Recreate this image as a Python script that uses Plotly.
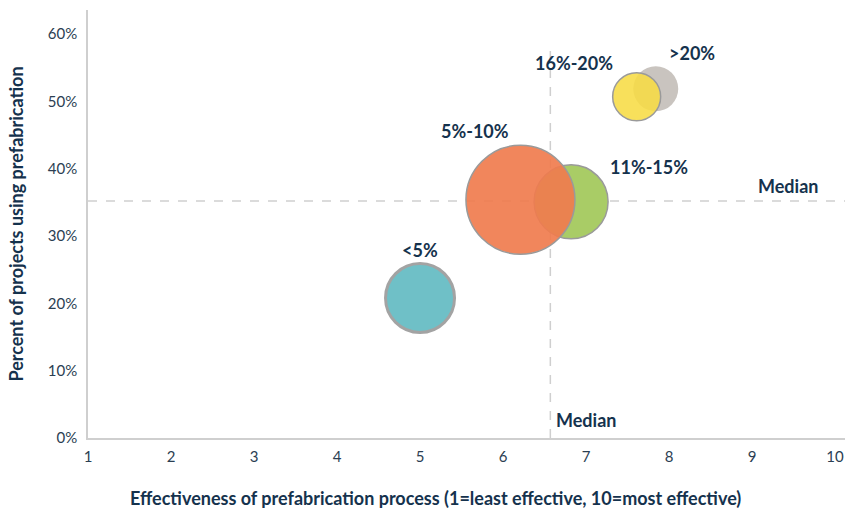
import plotly.graph_objects as go

# Data
labels = ["<5%", "11%-15%", "5%-10%", ">20%", "16%-20%"]
effectiveness = [5.0, 6.82, 6.21, 7.84, 7.61]
pct_prefab = [0.208, 0.351, 0.354, 0.519, 0.507]
bubble_size = [69, 74, 109, 45, 48]
colors = ["rgba(111,192,199,1)", "rgba(169,204,102,1)", "rgba(240,124,78,0.92)",
          "rgba(201,196,191,1)", "rgba(247,220,68,0.88)"]
line_colors = ["#a3a3a3", "#9a9a9a", "#9a9a9a", "rgba(201,196,191,1)", "#9a9a9a"]
line_widths = [3, 1.5, 1.5, 0, 1.5]
median_x = 6.57
median_y = 0.352
x_ticks = list(range(1, 11))
y_ticks = [0, 0.1, 0.2, 0.3, 0.4, 0.5, 0.6]

# label offsets (px)
label_dx = [0, 78, -45, 36, -63]
label_dy = [48, 35, 69, 36, 34]

navy = "#15324d"
tick_color = "#2b3e52"
grid = "#cfcfcf"
font = "Lato"

fig = go.Figure()
fig.add_trace(go.Scatter(
    x=effectiveness, y=pct_prefab, mode="markers",
    marker=dict(size=bubble_size, sizemode="diameter", color=colors, opacity=1,
                line=dict(color=line_colors, width=line_widths)),
    hoverinfo="text", text=labels, showlegend=False,
))

shapes = [
    dict(type="line", xref="x", yref="y", x0=median_x, x1=median_x, y0=0, y1=0.58,
         line=dict(color=grid, width=1.5, dash="dash"), layer="below"),
    dict(type="line", xref="paper", yref="y", x0=0, x1=1, y0=median_y, y1=median_y,
         line=dict(color=grid, width=1.5, dash="dash"), layer="below"),
]

annotations = []
for lab, x, y, dx, dy in zip(labels, effectiveness, pct_prefab, label_dx, label_dy):
    annotations.append(dict(x=x, y=y, xref="x", yref="y", text=lab, showarrow=False,
                            xshift=dx, yshift=dy,
                            font=dict(family=font, size=18, color=navy, weight="bold")))
annotations.append(dict(x=1, y=median_y, xref="paper", yref="y", text="Median",
                        showarrow=False, xanchor="right", yanchor="bottom", xshift=-25, yshift=2,
                        font=dict(family=font, size=18, color=navy, weight="bold")))
annotations.append(dict(x=median_x, y=0, xref="x", yref="y", text="Median",
                        showarrow=False, xanchor="left", yanchor="bottom", xshift=4, yshift=5,
                        font=dict(family=font, size=18, color=navy, weight="bold")))
# x axis title (offset left as in reference)
annotations.append(dict(x=0.459, y=0, xref="paper", yref="paper", yanchor="middle",
                        yshift=-60, showarrow=False,
                        text="Effectiveness of prefabrication process (1=least effective, 10=most effective)",
                        font=dict(family=font, size=18, color=navy, weight="bold")))

fig.update_layout(
    width=848, height=511,
    margin=dict(l=88, r=3, t=10, b=73),
    plot_bgcolor="white", paper_bgcolor="white",
    shapes=shapes, annotations=annotations,
    font=dict(family=font, color=navy, size=15),
    xaxis=dict(range=[1, 10.12], tickvals=x_ticks, showgrid=False, zeroline=False,
               showline=True, linecolor=grid, linewidth=1.5, ticklabelstandoff=4,
               tickfont=dict(family=font, size=15, color=tick_color)),
    yaxis=dict(range=[0, 0.636], tickvals=y_ticks, tickformat=".0%", showgrid=False, zeroline=False,
               showline=True, linecolor=grid, linewidth=1.5,
               tickfont=dict(family=font, size=15, color=tick_color), ticklabelstandoff=6,
               title=dict(text="Percent of projects using prefabrication",
                          font=dict(family=font, size=18, color=navy, weight="bold"), standoff=20)),
)

fig.write_html("out.html")
